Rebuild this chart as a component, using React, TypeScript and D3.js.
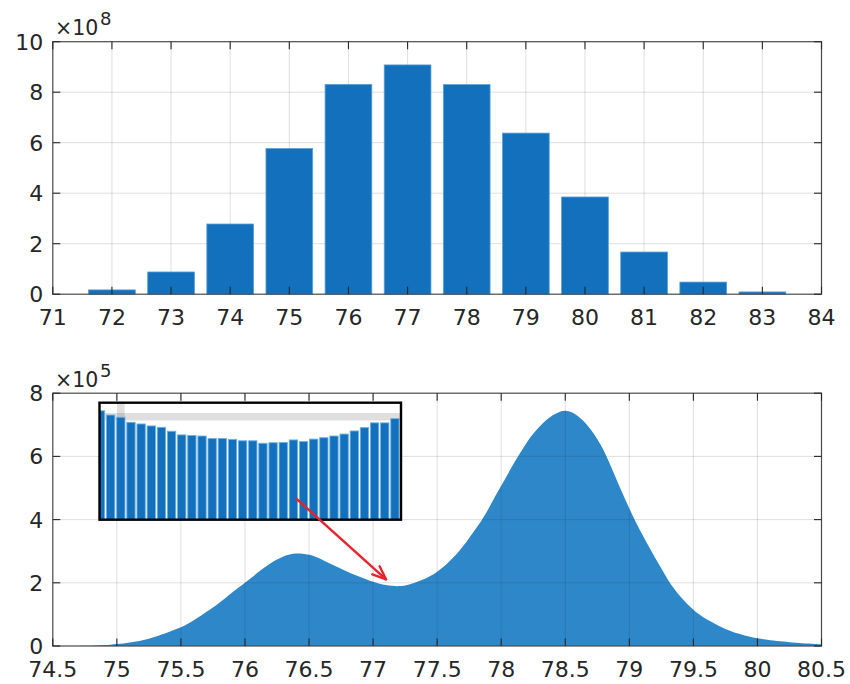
import React from 'react';
import * as d3 from 'd3';

// ---------- data ----------
// Top histogram (counts ×1e8)
const TOP_BINS = [72, 73, 74, 75, 76, 77, 78, 79, 80, 81, 82, 83];
const TOP_COUNTS = [0.17, 0.88, 2.78, 5.77, 8.31, 9.08, 8.3, 6.38, 3.85, 1.67, 0.48, 0.09];
const TOP_X_TICKS = [71, 72, 73, 74, 75, 76, 77, 78, 79, 80, 81, 82, 83, 84];
const TOP_Y_TICKS = [0, 2, 4, 6, 8, 10];
const TOP_EXP = '8';

// Bottom fine histogram (counts ×1e5), bin centres start at HIST_START, spaced HIST_STEP
const HIST_START = 74.5;
const HIST_STEP = 0.05;
const HIST_COUNTS = [
  0, 0, 0, 0, 0.003, 0.005, 0.01, 0.02, 0.03, 0.04,
  0.06, 0.08, 0.11, 0.14, 0.18, 0.23, 0.29, 0.36, 0.44, 0.51,
  0.59, 0.69, 0.81, 0.94, 1.08, 1.22, 1.37, 1.53, 1.69, 1.85,
  2.0, 2.16, 2.33, 2.48, 2.62, 2.74, 2.84, 2.9, 2.93, 2.92,
  2.89, 2.83, 2.74, 2.63, 2.54, 2.45, 2.35, 2.26, 2.18, 2.1,
  2.03, 1.97, 1.93, 1.9, 1.89, 1.91, 1.97, 2.04, 2.12, 2.22,
  2.35, 2.5, 2.7, 2.9, 3.14, 3.42, 3.7, 3.99, 4.33, 4.72,
  5.07, 5.42, 5.8, 6.12, 6.45, 6.72, 6.95, 7.15, 7.3, 7.41,
  7.46, 7.41, 7.28, 7.1, 6.85, 6.55, 6.2, 5.75, 5.27, 4.8,
  4.35, 3.92, 3.53, 3.16, 2.8, 2.45, 2.1, 1.8, 1.55, 1.33,
  1.14, 0.98, 0.85, 0.74, 0.63, 0.54, 0.46, 0.39, 0.33, 0.28,
  0.24, 0.21, 0.18, 0.16, 0.14, 0.12, 0.1, 0.09, 0.08, 0.06,
  0.05,
];
const BOTTOM_X_TICKS = [74.5, 75, 75.5, 76, 76.5, 77, 77.5, 78, 78.5, 79, 79.5, 80, 80.5];
const BOTTOM_Y_TICKS = [0, 2, 4, 6, 8];
const BOTTOM_EXP = '5';

// Inset: magnified bar tops around the dip (×1e5)
const INSET_COUNTS = [
  1.9121, 1.9106, 1.9098, 1.908, 1.9074, 1.9067, 1.9062, 1.9048, 1.9035, 1.9033,
  1.9031, 1.9022, 1.9022, 1.9019, 1.9014, 1.9014, 1.9005, 1.9007, 1.9008, 1.9017,
  1.9011, 1.902, 1.9025, 1.9031, 1.9038, 1.9049, 1.9061, 1.9078, 1.9078, 1.9093,
];
const INSET_GRID_X = 2;
const INSET_GRID_Y = 1.91;

// ---------- layout ----------
const W = 850;
const H = 684;
const L = 52.8;
const R = 821.5;
const T1 = 41.7;
const B1 = 294.2;
const T2 = 393.2;
const B2 = 646;
const TICK = 7.5;
const FONT = "'DejaVu Sans', sans-serif";
const AX = '#262626';
const GRID = 'rgba(38,38,38,0.15)';

const fmt = (v: number) => String(v);

function Frame({ x, y, xt, yt, top, bottom }: any) {
  return (
    <g>
      <rect x={L} y={top} width={R - L} height={bottom - top} fill="none" stroke="#4a4a4a" strokeWidth={1.2} />
      {xt.map((t: number) => (
        <g key={'x' + t}>
          <line x1={x(t)} x2={x(t)} y1={bottom} y2={bottom - TICK} stroke={AX} strokeWidth={1.1} />
          <line x1={x(t)} x2={x(t)} y1={top} y2={top + TICK} stroke={AX} strokeWidth={1.1} />
          <text x={x(t)} y={bottom + 31} textAnchor="middle" fontFamily={FONT} fontSize={22} fill={AX}>
            {fmt(t)}
          </text>
        </g>
      ))}
      {yt.map((t: number) => (
        <g key={'y' + t}>
          <line x1={L} x2={L + TICK} y1={y(t)} y2={y(t)} stroke={AX} strokeWidth={1.1} />
          <line x1={R} x2={R - TICK} y1={y(t)} y2={y(t)} stroke={AX} strokeWidth={1.1} />
          <text x={L - 9.5} y={y(t)} dy="0.36em" textAnchor="end" fontFamily={FONT} fontSize={22} fill={AX}>
            {fmt(t)}
          </text>
        </g>
      ))}
    </g>
  );
}

function Grid({ x, y, xt, yt, top, bottom }: any) {
  return (
    <g>
      {xt.slice(1, -1).map((t: number) => (
        <line key={'gx' + t} x1={x(t)} x2={x(t)} y1={top} y2={bottom} stroke={GRID} strokeWidth={1} />
      ))}
      {yt.slice(1, -1).map((t: number) => (
        <line key={'gy' + t} x1={L} x2={R} y1={y(t)} y2={y(t)} stroke={GRID} strokeWidth={1} />
      ))}
    </g>
  );
}

function Exponent({ top, exp }: { top: number; exp: string }) {
  return (
    <g fontFamily={FONT} fill={AX}>
      <text x={55} y={top - 6.7} fontSize={20.5}>×10</text>
      <text x={100} y={top - 16.7} fontSize={18}>{exp}</text>
    </g>
  );
}

export default function App() {
  // top chart scales
  const x1 = d3.scaleLinear().domain([71, 84]).range([L, R]);
  const y1 = d3.scaleLinear().domain([0, 10]).range([B1, T1]);
  const barW = (x1(1) - x1(0)) * 0.79;

  // bottom chart scales
  const x2 = d3.scaleLinear().domain([74.5, 80.5]).range([L, R]);
  const y2 = d3.scaleLinear().domain([0, 8]).range([B2, T2]);
  const histPts = HIST_COUNTS.map((v, i) => ({ x: HIST_START + i * HIST_STEP, v }));
  const area = d3
    .area<{ x: number; v: number }>()
    .x((d) => x2(d.x))
    .y0(B2)
    .y1((d) => y2(d.v))
    .curve(d3.curveBasis);

  // inset scales
  const IX0 = 99.5;
  const IX1 = 401;
  const IY0 = 402.7;
  const IY1 = 519.7;
  const xi = d3.scaleLinear().domain([-0.1, 29.6]).range([IX0, IX1]);
  const yi = d3.scaleLinear().domain([1.915 - (IY1 - IY0) / 2800, 1.915]).range([IY1, IY0]);
  const ibw = (xi(1) - xi(0)) * 0.82;

  // arrow
  const a0 = { x: 296.7, y: 499 };
  const a1 = { x: 386, y: 579.3 };
  const ang = Math.atan2(a0.y - a1.y, a0.x - a1.x);
  const hl = 14.5;
  const hw = (22 * Math.PI) / 180;
  const b1 = { x: a1.x + hl * Math.cos(ang + hw), y: a1.y + hl * Math.sin(ang + hw) };
  const b2 = { x: a1.x + hl * Math.cos(ang - hw), y: a1.y + hl * Math.sin(ang - hw) };

  return (
    <svg width={W} height={H} style={{ position: 'absolute', left: 0, top: 0, background: '#fff' }}>
      <rect width={W} height={H} fill="#fff" />

      {/* ---------- top chart ---------- */}
      <Grid x={x1} y={y1} xt={TOP_X_TICKS} yt={TOP_Y_TICKS} top={T1} bottom={B1} />
      {TOP_BINS.map((b, i) => (
        <rect
          key={b}
          x={x1(b) - barW / 2}
          y={y1(TOP_COUNTS[i])}
          width={barW}
          height={B1 - y1(TOP_COUNTS[i])}
          fill="#1270BC"
          stroke="#5A9FD8"
          strokeWidth={0.8}
        />
      ))}
      <Frame x={x1} y={y1} xt={TOP_X_TICKS} yt={TOP_Y_TICKS} top={T1} bottom={B1} />
      <Exponent top={T1} exp={TOP_EXP} />

      {/* ---------- bottom chart ---------- */}
      <path d={area(histPts) || ''} fill="#2E87C8" />
      <Grid x={x2} y={y2} xt={BOTTOM_X_TICKS} yt={BOTTOM_Y_TICKS} top={T2} bottom={B2} />
      <Frame x={x2} y={y2} xt={BOTTOM_X_TICKS} yt={BOTTOM_Y_TICKS} top={T2} bottom={B2} />
      <Exponent top={T2} exp={BOTTOM_EXP} />

      {/* ---------- inset ---------- */}
      <g>
        <rect x={IX0} y={IY0} width={IX1 - IX0} height={IY1 - IY0} fill="#fff" />
        <clipPath id="insetClip">
          <rect x={IX0} y={IY0} width={IX1 - IX0} height={IY1 - IY0} />
        </clipPath>
        <g clipPath="url(#insetClip)">
          <line x1={IX0} x2={IX1} y1={yi(INSET_GRID_Y)} y2={yi(INSET_GRID_Y)} stroke="rgba(38,38,38,0.15)" strokeWidth={7.6} />
          <line x1={xi(INSET_GRID_X)} x2={xi(INSET_GRID_X)} y1={IY0} y2={IY1} stroke="rgba(38,38,38,0.15)" strokeWidth={7.6} />
          {INSET_COUNTS.map((v, i) => (
            <rect
              key={i}
              x={xi(i) - ibw / 2}
              y={yi(v)}
              width={ibw}
              height={IY1 - yi(v)}
              fill="#1270BC"
              stroke="#6FB0E4"
              strokeWidth={0.9}
            />
          ))}
        </g>
        <rect x={IX0} y={IY0} width={IX1 - IX0} height={IY1 - IY0} fill="none" stroke="#000" strokeWidth={2.4} />
      </g>

      {/* ---------- arrow ---------- */}
      <g stroke="#E8232B" strokeWidth={2.4} fill="none" strokeLinecap="round" strokeLinejoin="round">
        <line x1={a0.x} y1={a0.y} x2={a1.x} y2={a1.y} />
        <polyline points={`${b1.x},${b1.y} ${a1.x},${a1.y} ${b2.x},${b2.y}`} />
      </g>
    </svg>
  );
}
